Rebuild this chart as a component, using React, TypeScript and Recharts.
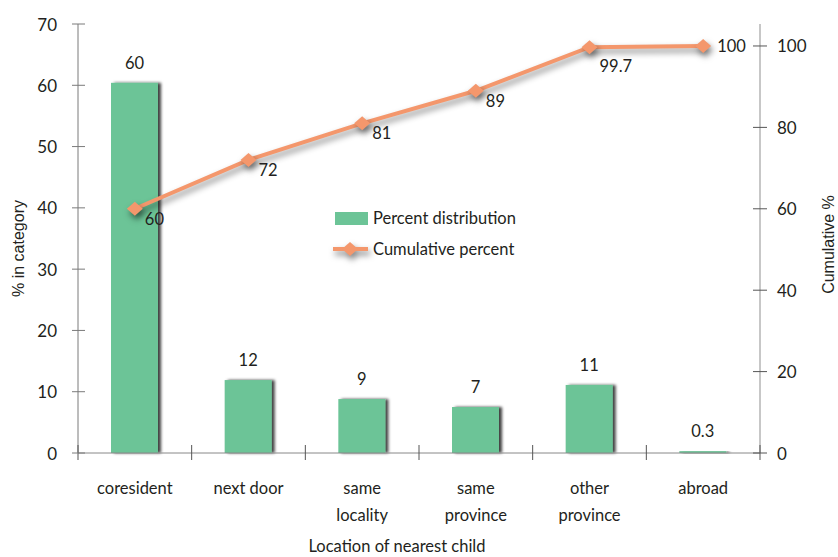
import React from 'react';
import { ComposedChart, Bar, Line, XAxis, YAxis, LabelList } from 'recharts';

const categories = ['coresident', 'next door', 'same\nlocality', 'same\nprovince', 'other\nprovince', 'abroad'];
const percentValues = [60.4, 11.9, 8.8, 7.5, 11.1, 0.3];
const percentLabels = ['60', '12', '9', '7', '11', '0.3'];
const cumulativeValues = [60, 72, 81, 89, 99.7, 100];
const cumulativeLabels = ['60', '72', '81', '89', '99.7', '100'];
const leftTicks = [0, 10, 20, 30, 40, 50, 60, 70];
const rightTicks = [0, 20, 40, 60, 80, 100];
const seriesNames = ['Percent distribution', 'Cumulative percent'];

const data = categories.map((c, i) => ({
  name: c,
  pct: percentValues[i],
  pctLabel: percentLabels[i],
  cum: cumulativeValues[i],
  cumLabel: cumulativeLabels[i],
}));

const W = 838;
const H = 557;
const AXIS_W = 78;
const PLOT_W = W - 2 * AXIS_W;
const BAND = PLOT_W / categories.length;

const BAR_COLOR = '#6cc497';
const LINE_COLOR = '#f4976c';
const TEXT = '#231f20';
const FONT = 'Lato, "Open Sans", sans-serif';
const TITLE_FONT = '"Liberation Sans", Arial, sans-serif';

const LeftTick = (props: any) => {
  const { x, y, payload } = props;
  return (
    <g>
      <line x1={x - 6} x2={x + 7} y1={y} y2={y} stroke="#7a7a7a" strokeWidth={1} />
      <text x={x - 21} y={y} textAnchor="end" dominantBaseline="central" fontSize={17} fill={TEXT} fontFamily={FONT}>
        {payload.value}
      </text>
    </g>
  );
};

const RightTick = (props: any) => {
  const { x, y, payload } = props;
  return (
    <g>
      <line x1={x - 7} x2={x + 7} y1={y} y2={y} stroke="#555" strokeWidth={1} />
      <text x={x + 17} y={y} textAnchor="start" dominantBaseline="central" fontSize={17} fill={TEXT} fontFamily={FONT}>
        {payload.value}
      </text>
    </g>
  );
};

const XTick = (props: any) => {
  const { x, y, payload, index } = props;
  const lines = String(payload.value).split('\n');
  const last = index === categories.length - 1;
  return (
    <g>
      <line x1={x - BAND / 2} x2={x - BAND / 2} y1={y - 8} y2={y + 7} stroke="#555" strokeWidth={1} />
      {last && <line x1={x + BAND / 2} x2={x + BAND / 2} y1={y - 8} y2={y + 7} stroke="#555" strokeWidth={1} />}
      <text x={x} y={y + 35} textAnchor="middle" fontSize={16.5} fill={TEXT} fontFamily={FONT}>
        {lines.map((l, i) => (
          <tspan key={i} x={x} dy={i === 0 ? 0 : 27} dominantBaseline="central">
            {l}
          </tspan>
        ))}
      </text>
    </g>
  );
};

const BarShape = (props: any) => {
  const { x, y, width, height } = props;
  if (height <= 0) return null;
  return <rect x={x} y={y} width={width} height={height} fill={BAR_COLOR} filter="url(#barShadow)" />;
};

const BarValueLabel = (props: any) => {
  const { x, y, width, value } = props;
  return (
    <text x={x + width / 2} y={y - 20} textAnchor="middle" dominantBaseline="central" fontSize={16.5} fill={TEXT} fontFamily={FONT}>
      {value}
    </text>
  );
};

const LineValueLabel = (props: any) => {
  const { x, y, value, index } = props;
  const last = index === data.length - 1;
  const flatNext = !last && Math.abs(data[index + 1].cum - data[index].cum) < 5;
  const tx = last ? x + 14 : x + 10;
  const ty = last ? y : flatNext ? y + 19 : y + 10;
  return (
    <text x={tx} y={ty} textAnchor="start" dominantBaseline="central" fontSize={16.5} fill={TEXT} fontFamily={FONT}>
      {value}
    </text>
  );
};

const Diamond = (props: any) => {
  const { cx, cy } = props;
  if (cx == null || cy == null) return null;
  return (
    <polygon
      points={`${cx},${cy - 7} ${cx + 8},${cy} ${cx},${cy + 7} ${cx - 8},${cy}`}
      fill={LINE_COLOR}
      style={{ filter: 'drop-shadow(2px 4px 3px rgba(0,0,0,0.5))' }}
    />
  );
};

const LegendBox = () => (
  <div
    style={{
      position: 'absolute',
      left: 333,
      top: 208,
      fontFamily: FONT,
      fontSize: 16.5,
      color: TEXT,
      lineHeight: '20px',
    }}
  >
    <div style={{ display: 'flex', alignItems: 'center', height: 20 }}>
      <svg width={40} height={20} style={{ display: 'block' }}>
        <rect x={2} y={4} width={33} height={13} fill={BAR_COLOR} />
      </svg>
      <span>{seriesNames[0]}</span>
    </div>
    <div style={{ display: 'flex', alignItems: 'center', height: 20, marginTop: 11 }}>
      <svg width={40} height={20} style={{ display: 'block', overflow: 'visible' }}>
        <g style={{ filter: 'drop-shadow(2px 4px 3px rgba(0,0,0,0.5))' }}>
          <line x1={0} x2={35} y1={10} y2={10} stroke={LINE_COLOR} strokeWidth={4} />
          <polygon points="17,3 25,10 17,17 9,10" fill={LINE_COLOR} />
        </g>
      </svg>
      <span>{seriesNames[1]}</span>
    </div>
  </div>
);

const LeftTitle = (props: any) => {
  const { viewBox } = props;
  const cy = viewBox.y + viewBox.height / 2 + 10;
  const cx = 18;
  return (
    <text x={cx} y={cy} transform={`rotate(-90 ${cx} ${cy})`} textAnchor="middle" dominantBaseline="central" fontSize={16} fill={TEXT} fontFamily={TITLE_FONT}>
      % in category
    </text>
  );
};

const RightTitle = (props: any) => {
  const { viewBox } = props;
  const cy = viewBox.y + viewBox.height / 2 + 6;
  const cx = viewBox.x + 68;
  return (
    <text x={cx} y={cy} transform={`rotate(-90 ${cx} ${cy})`} textAnchor="middle" dominantBaseline="central" fontSize={16} fill={TEXT} fontFamily={TITLE_FONT}>
      Cumulative %
    </text>
  );
};

const XTitle = (props: any) => {
  const { viewBox } = props;
  const cx = viewBox.x + viewBox.width / 2 - 22;
  const cy = 546;
  return (
    <text x={cx} y={cy} textAnchor="middle" dominantBaseline="central" fontSize={16.5} fill={TEXT} fontFamily={FONT}>
      Location of nearest child
    </text>
  );
};

export default function App() {
  return (
    <div style={{ position: 'absolute', left: 0, top: 0, width: W, height: H, background: '#fff' }}>
      <style>{'.cum-line .recharts-line-curve{filter:drop-shadow(2px 4px 3px rgba(0,0,0,0.45));}'}</style>
      <ComposedChart width={W} height={H} data={data} margin={{ top: 24, right: 0, bottom: 0, left: 0 }}>
        <defs>
          <filter id="barShadow" x="-20%" y="-5%" width="150%" height="110%">
            <feDropShadow dx={3} dy={0} stdDeviation={1.5} floodColor="#000" floodOpacity={0.75} />
          </filter>
        </defs>
        <XAxis
          dataKey="name"
          xAxisId="x"
          height={104}
          interval={0}
          tickSize={0}
          tickMargin={0}
          tickLine={false}
          axisLine={{ stroke: '#888', strokeWidth: 1 }}
          tick={<XTick />}
          label={<XTitle />}
        />
        <YAxis
          yAxisId="left"
          orientation="left"
          width={AXIS_W}
          domain={[0, 70]}
          ticks={leftTicks}
          interval={0}
          tickSize={0}
          tickMargin={0}
          tickLine={false}
          axisLine={{ stroke: '#7a7a7a', strokeWidth: 1 }}
          tick={<LeftTick />}
          label={<LeftTitle />}
        />
        <YAxis
          yAxisId="right"
          orientation="right"
          width={AXIS_W}
          domain={[0, 105.4]}
          allowDataOverflow
          ticks={rightTicks}
          interval={0}
          tickSize={0}
          tickMargin={0}
          tickLine={false}
          axisLine={{ stroke: '#b5b5b5', strokeWidth: 1.5 }}
          tick={<RightTick />}
          label={<RightTitle />}
        />
        <Bar xAxisId="x" yAxisId="left" dataKey="pct" name={seriesNames[0]} barSize={47} shape={<BarShape />} isAnimationActive={false}>
          <LabelList dataKey="pctLabel" content={<BarValueLabel />} />
        </Bar>
        <Line
          className="cum-line"
          xAxisId="x"
          yAxisId="right"
          dataKey="cum"
          name={seriesNames[1]}
          type="linear"
          stroke={LINE_COLOR}
          strokeWidth={4}
          dot={<Diamond />}
          activeDot={false}
          isAnimationActive={false}
        >
          <LabelList dataKey="cumLabel" content={<LineValueLabel />} />
        </Line>
      </ComposedChart>
      <LegendBox />
    </div>
  );
}
